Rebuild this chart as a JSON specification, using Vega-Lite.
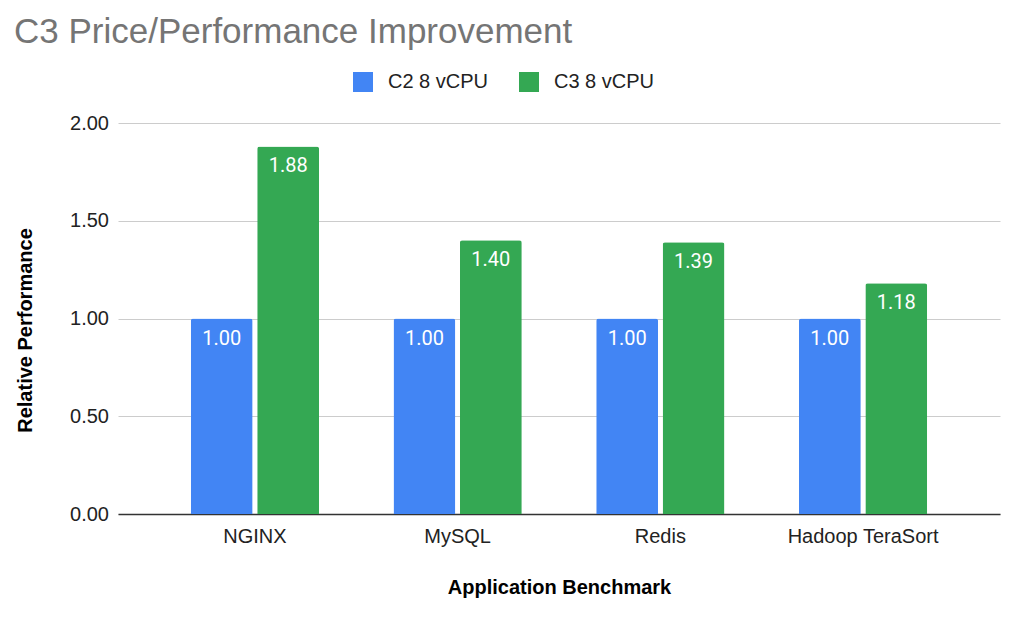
{
  "$schema": "https://vega.github.io/schema/vega-lite/v6.json",
  "width": 882,
  "height": 391,
  "autosize": "none",
  "padding": {"left": 118, "top": 123, "right": 18, "bottom": 106},
  "background": "white",
  "config": {
    "view": {"stroke": null},
    "font": "Liberation Sans"
  },
  "title": {
    "text": "C3 Price/Performance Improvement",
    "anchor": "start",
    "frame": "group",
    "dx": -104,
    "offset": 0,
    "dy": 6,
    "baseline": "alphabetic",
    "font": "Liberation Sans",
    "fontSize": 35,
    "fontWeight": "normal",
    "color": "#757575"
  },
  "data": {
    "values": [
      {"benchmark": "NGINX", "series": "C2 8 vCPU", "value": 1.00},
      {"benchmark": "NGINX", "series": "C3 8 vCPU", "value": 1.88},
      {"benchmark": "MySQL", "series": "C2 8 vCPU", "value": 1.00},
      {"benchmark": "MySQL", "series": "C3 8 vCPU", "value": 1.40},
      {"benchmark": "Redis", "series": "C2 8 vCPU", "value": 1.00},
      {"benchmark": "Redis", "series": "C3 8 vCPU", "value": 1.39},
      {"benchmark": "Hadoop TeraSort", "series": "C2 8 vCPU", "value": 1.00},
      {"benchmark": "Hadoop TeraSort", "series": "C3 8 vCPU", "value": 1.18}
    ]
  },
  "encoding": {
    "x": {
      "field": "benchmark",
      "type": "nominal",
      "sort": null,
      "scale": {"paddingInner": 0.367, "paddingOuter": 0.359},
      "axis": {
        "title": "Application Benchmark",
        "labelAngle": 0,
        "ticks": false,
        "labelPadding": 12,
        "labelFontSize": 20,
        "labelColor": "#222222",
        "labelFont": "Liberation Sans",
        "domain": true,
        "domainColor": "#333333",
        "domainWidth": 1.5,
        "titleFont": "Liberation Sans",
        "titleFontSize": 20,
        "titleFontWeight": "bold",
        "titleColor": "#000000",
        "titlePadding": 31
      }
    },
    "xOffset": {
      "field": "series",
      "type": "nominal",
      "scale": {"paddingInner": 0.068, "paddingOuter": 0}
    },
    "y": {
      "field": "value",
      "type": "quantitative",
      "scale": {"domain": [0, 2], "nice": false},
      "axis": {
        "title": "Relative Performance",
        "values": [0, 0.5, 1, 1.5, 2],
        "format": ".2f",
        "domain": false,
        "ticks": false,
        "grid": true,
        "gridColor": "#cccccc",
        "gridWidth": 1,
        "labelPadding": 9.5,
        "labelFontSize": 20,
        "labelColor": "#222222",
        "labelFont": "Liberation Sans",
        "titleFont": "Liberation Sans",
        "titleFontSize": 20,
        "titleFontWeight": "bold",
        "titleColor": "#000000",
        "titleAngle": -90,
        "titleAlign": "center",
        "titleBaseline": "alphabetic",
        "titleX": -87,
        "titleY": 207
      }
    }
  },
  "layer": [
    {
      "mark": {"type": "bar", "cornerRadiusTopLeft": 2.5, "cornerRadiusTopRight": 2.5},
      "encoding": {
        "color": {
          "field": "series",
          "type": "nominal",
          "scale": {"domain": ["C2 8 vCPU", "C3 8 vCPU"], "range": ["#4285F4", "#34A853"]},
          "legend": {
            "title": null,
            "orient": "none",
            "legendX": 235,
            "legendY": -51,
            "direction": "horizontal",
            "symbolType": "square",
            "symbolSize": 400,
            "symbolStrokeWidth": 0,
            "labelFont": "Liberation Sans",
            "labelFontSize": 20,
            "labelColor": "#222222",
            "labelOffset": 15,
            "columnPadding": 30
          }
        }
      }
    },
    {
      "mark": {
        "type": "text",
        "color": "white",
        "font": "Roboto",
        "fontSize": 20,
        "align": "center",
        "baseline": "alphabetic",
        "dy": 26
      },
      "encoding": {
        "text": {"field": "value", "type": "quantitative", "format": ".2f"}
      }
    }
  ]
}
